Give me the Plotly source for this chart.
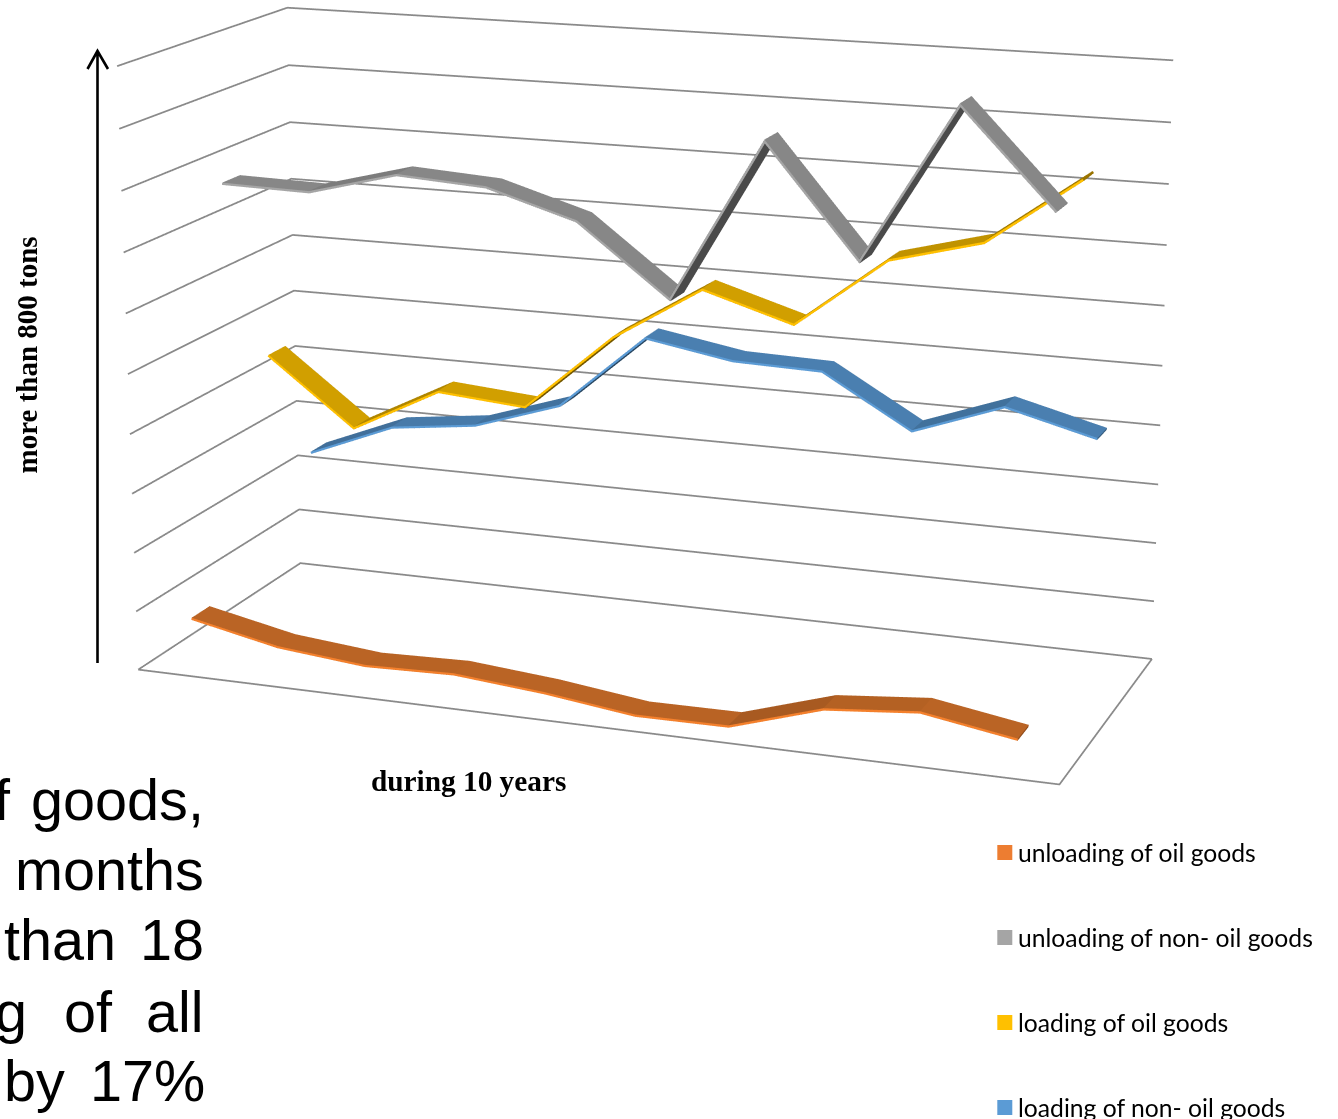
import numpy as np
import plotly.graph_objects as go

W, H = 1338, 1119

# Tonnage per year for each port activity
years = list(range(1, 11))
unloading_oil = [84, 53, 39, 43, 30, 11, 12, 59, 73, 48]
unloading_non_oil = [780, 777, 816, 807, 763, 650, 913, 736, 989, 834]
loading_oil = [454, 342, 419, 407, 538, 631, 586, 703, 743, 854]
loading_non_oil = [243, 303, 321, 370, 501, 475, 471, 384, 439, 400]

series_names = ["unloading of oil goods", "unloading of non- oil goods",
                "loading of oil goods", "loading of non- oil goods"]
series_values = [unloading_oil, unloading_non_oil, loading_oil, loading_non_oil]
legend_colors = ["#ED7D31", "#A5A5A5", "#FFC000", "#5B9BD5"]
edge_colors = ["#F4802C", "#A5A5A5", "#FFC000", "#5B9BD5"]
face_colors = ["#BA6425", "#878787", "#D19F00", "#4A7FB0"]

z_levels = list(range(0, 1001, 100))

# The scene's field of view is fixed, so a long focal length takes a tall canvas;
# the graph div is then moved up by page_shift to frame the scene.
canvas_h = 3162
page_shift = 1195
principal_x = 642
eye = dict(x=2.0425, y=-5.6002, z=1.5290)
center = dict(x=-0.0763, y=0.1833, z=-0.0786)
up = dict(x=-0.0007, y=0.0008, z=1)
aspect = (1.5475, 0.6246, 1.0)
pad = 1.1


def rgb(color, k=1.0):
    c = color.lstrip("#")
    return "rgb(%d,%d,%d)" % tuple(int(k * int(c[i:i + 2], 16)) for i in (0, 2, 4))


def ribbon(xs, zs, y, edge, face, depth=0.42, thick=2.2):
    """Closed 3-D band along a series: top, underside, front, back and end caps."""
    xs = np.array(xs, float)
    zs = np.array(zs, float)
    n = len(xs)
    unit_x, unit_z = 92.0, 0.58
    tang = np.stack([np.diff(xs) * unit_x, np.diff(zs) * unit_z], 1)
    tang /= np.linalg.norm(tang, axis=1, keepdims=True)
    nrm = np.stack([tang[:, 1], -tang[:, 0]], 1)
    ox, oz = np.zeros(n), np.zeros(n)
    for i in range(n):
        a, b = nrm[max(i - 1, 0)], nrm[min(i, n - 2)]
        m = a + b
        m /= np.linalg.norm(m)
        k = min(1 / max(m @ a, 0.01), 2)
        ox[i] = m[0] * k * thick / unit_x
        oz[i] = m[1] * k * thick / unit_z
    vx, vy, vz = [], [], []
    for i in range(n):
        vx += [xs[i], xs[i], xs[i] + ox[i], xs[i] + ox[i]]
        vy += [y - depth / 2, y + depth / 2, y - depth / 2, y + depth / 2]
        vz += [zs[i], zs[i], zs[i] + oz[i], zs[i] + oz[i]]
    I, J, K, C = [], [], [], []

    def quad(a, b, c, d, color):
        I.extend([a, a])
        J.extend([b, c])
        K.extend([c, d])
        C.extend([color, color])

    for i in range(n - 1):
        q = 4 * i
        rise = zs[i + 1] - zs[i]
        shade = 1.0 if rise <= 0 else max(0.52, 1 - 0.002 * rise)
        quad(q, q + 4, q + 5, q + 1, rgb(face, shade))
        quad(q + 2, q + 6, q + 7, q + 3, rgb(edge, 0.45))
        quad(q, q + 4, q + 6, q + 2, rgb(edge))
        quad(q + 1, q + 5, q + 7, q + 3, rgb(edge, 0.6))
    quad(0, 1, 3, 2, rgb(edge, 0.6))
    e = 4 * (n - 1)
    quad(e, e + 1, e + 3, e + 2, rgb(edge, 0.6))
    return go.Mesh3d(x=vx, y=vy, z=vz, i=I, j=J, k=K, facecolor=C, flatshading=True,
                     hoverinfo="skip", showlegend=False,
                     lighting=dict(ambient=1, diffuse=0, specular=0, fresnel=0, roughness=1))


fig = go.Figure()

# Wall gridlines plus the open edges of the floor
n_years = len(years)
n_series = len(series_names)
gx, gy, gz = [], [], []
for lv in z_levels:
    gx += [0, 0, n_years, None]
    gy += [0, n_series, n_series, None]
    gz += [lv, lv, lv, None]
gx += [0, n_years, n_years, None]
gy += [0, 0, n_series, None]
gz += [0, 0, 0, None]
fig.add_trace(go.Scatter3d(x=gx, y=gy, z=gz, mode="lines", hoverinfo="skip", showlegend=False,
                           line=dict(color="#8A8A8A", width=3.5)))

for idx, values in enumerate(series_values):
    fig.add_trace(ribbon([yr - 0.5 for yr in years], values, idx + 0.5,
                         edge_colors[idx], face_colors[idx]))


def padded(lo, hi):
    mid, half = (lo + hi) / 2, (hi - lo) / 2 * pad
    return [mid - half, mid + half]


def px(x):
    return x / W


def py(y):
    return 1 - (y + page_shift) / canvas_h


annotations, shapes = [], []


def label(text, x, y, size, family, anchor="center", angle=0):
    annotations.append(dict(xref="paper", yref="paper", x=px(x), y=py(y), xanchor=anchor,
                            yanchor="middle", showarrow=False, text=text, textangle=angle,
                            font=dict(family=family, size=size, color="black")))


label("<b>more than 800 tons</b>", 26.5, 355, 29, "Liberation Serif", angle=-90)
label("<b>during 10 years</b>", 468.5, 781, 29.3, "Liberation Serif")

# Paragraph fragments at the lower left: word, right edge, baseline
para_words = ["f", "goods,", "months", "than", "18", "g", "of", "all", "by", "17%"]
para_right = [13, 205.5, 205.5, 118, 205.5, 29, 114.5, 206, 66.5, 206.5]
para_base = [820, 820, 890, 960, 960, 1032, 1032, 1032, 1101, 1101]
for word, right, base in zip(para_words, para_right, para_base):
    label(word, right, base - 19.9, 57.6, "Liberation Sans", anchor="right")

legend_y = [852.5, 937.5, 1022.5, 1107.5]
for name, yy, color in zip(series_names, legend_y, legend_colors):
    shapes.append(dict(type="rect", xref="paper", yref="paper", x0=px(997.3), x1=px(1012.3),
                       y0=py(yy - 7.5), y1=py(yy + 7.5), fillcolor=color, line=dict(width=0)))
    label(name, 1016, yy - 0.4, 24.7, "Lato", anchor="left")

# Upward arrow beside the value scale
shapes.append(dict(type="path", xref="paper", yref="paper", line=dict(color="black", width=2.6),
                   path=f"M {px(97.5)} {py(663)} L {px(97.5)} {py(51)} "
                        f"M {px(87.5)} {py(69)} L {px(97.5)} {py(51)} L {px(108)} {py(69)}"))

fig.update_layout(
    width=W, height=canvas_h, margin=dict(l=0, r=0, t=0, b=0),
    paper_bgcolor="white", showlegend=False, annotations=annotations, shapes=shapes,
    scene=dict(
        domain=dict(x=[0, 2 * principal_x / W], y=[0, 1]),
        xaxis=dict(visible=False, range=padded(0, n_years)),
        yaxis=dict(visible=False, range=padded(0, n_series)),
        zaxis=dict(visible=False, range=padded(z_levels[0], z_levels[-1])),
        aspectmode="manual",
        aspectratio=dict(x=aspect[0] * pad, y=aspect[1] * pad, z=aspect[2] * pad),
        camera=dict(eye=eye, center=center, up=up, projection=dict(type="perspective")),
    ),
)
fig.write_html(
    "out.html",
    post_script="var g=document.getElementById('{plot_id}');g.style.position='relative';"
                "g.style.top='-%dpx';document.body.style.overflow='hidden';" % page_shift,
)
